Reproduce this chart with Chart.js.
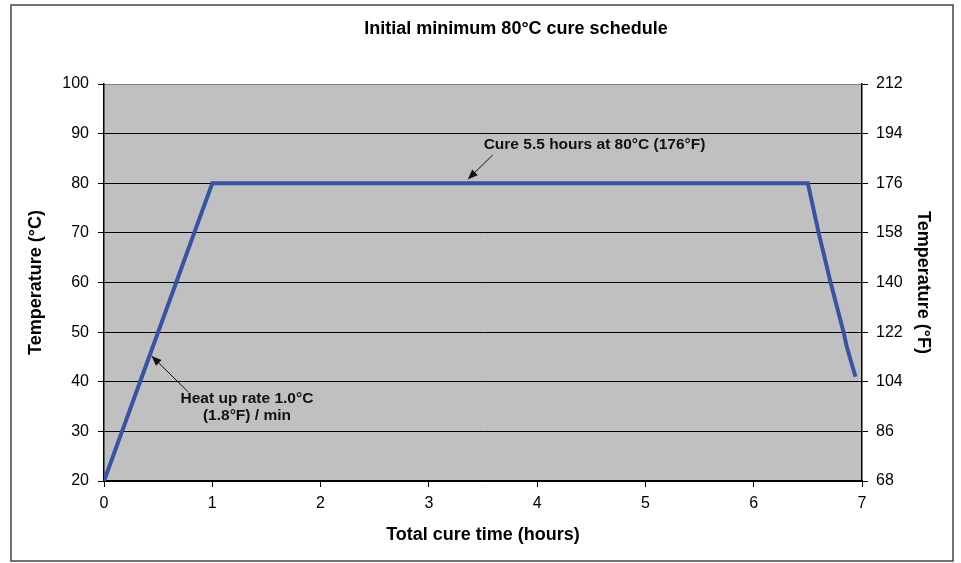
<!DOCTYPE html>
<html>
<head>
<meta charset="utf-8">
<script src="https://cdn.jsdelivr.net/npm/chart.js@4.4.0/dist/chart.umd.min.js"></script>
<style>
html,body{margin:0;padding:0;background:#fff;}
#wrap{width:961px;height:563px;position:relative;}
</style>
</head>
<body>
<div id="wrap"><canvas id="c" width="961" height="563"></canvas></div>
<script>
// ---- data ----
const timeHours = [0, 0.1667, 0.3333, 0.5, 0.6667, 0.8333, 1.0, 6.5, 6.6, 6.71, 6.83, 6.86, 6.94];
const tempC     = [20, 30, 40, 50, 60, 70, 80, 80, 70, 60, 50, 47, 41];
const xTicks = [0, 1, 2, 3, 4, 5, 6, 7];
const cTicks = [20, 30, 40, 50, 60, 70, 80, 90, 100];
const fTicks = [68, 86, 104, 122, 140, 158, 176, 194, 212];
const titleText = 'Initial minimum 80°C cure schedule';
const xTitle = 'Total cure time (hours)';
const yTitle = 'Temperature (°C)';
const y2Title = 'Temperature (°F)';
// annotations (text lines, anchor in data units, arrow from -> to in data units)
const noteCureLines = ['Cure 5.5 hours at 80°C (176°F)'];
const noteCureAt = [4.53, 87.7];
const noteCureArrow = [[3.59, 85.7], [3.36, 80.8]];
const noteHeatLines = ['Heat up rate 1.0°C', '(1.8°F) / min'];
const noteHeatAt = [1.32, 34.9];
const noteHeatArrow = [[0.78, 37.9], [0.44, 45.2]];

const FONT = "'Liberation Sans', Arial, sans-serif";

const bgPlugin = {
  id: 'bg',
  beforeDraw(chart) {
    const {ctx, chartArea: a, width, height} = chart;
    ctx.save();
    ctx.fillStyle = '#fff';
    ctx.fillRect(0, 0, width, height);
    ctx.strokeStyle = '#444';
    ctx.lineWidth = 1.5;
    ctx.strokeRect(11, 5, 942, 556);
    ctx.fillStyle = '#C0C0C0';
    ctx.fillRect(a.left, a.top, a.right - a.left, a.bottom - a.top);
    // chart title (offset to the right like the original)
    ctx.fillStyle = '#000';
    ctx.font = "bold 18px " + FONT;
    ctx.textAlign = 'center';
    ctx.textBaseline = 'middle';
    ctx.fillText(titleText, (a.left + a.right) / 2 + 33, 29);
    ctx.restore();
  }
};

function drawArrow(ctx, x1, y1, x2, y2) {
  ctx.beginPath();
  ctx.moveTo(x1, y1);
  ctx.lineTo(x2, y2);
  ctx.stroke();
  const ang = Math.atan2(y2 - y1, x2 - x1);
  const L = 10, W = 4;
  ctx.beginPath();
  ctx.moveTo(x2, y2);
  ctx.lineTo(x2 - L * Math.cos(ang) + W * Math.sin(ang), y2 - L * Math.sin(ang) - W * Math.cos(ang));
  ctx.lineTo(x2 - L * Math.cos(ang) - W * Math.sin(ang), y2 - L * Math.sin(ang) + W * Math.cos(ang));
  ctx.closePath();
  ctx.fill();
}

const notePlugin = {
  id: 'notes',
  afterDatasetsDraw(chart) {
    const {ctx} = chart;
    const xs = chart.scales.x, ys = chart.scales.y;
    const px = v => xs.getPixelForValue(v), py = v => ys.getPixelForValue(v);
    ctx.save();
    ctx.fillStyle = '#111';
    ctx.strokeStyle = '#111';
    ctx.lineWidth = 1;
    ctx.font = "bold 15.5px " + FONT;
    ctx.textAlign = 'center';
    ctx.textBaseline = 'middle';
    noteCureLines.forEach((t, i) => ctx.fillText(t, px(noteCureAt[0]), py(noteCureAt[1]) + i * 17));
    noteHeatLines.forEach((t, i) => ctx.fillText(t, px(noteHeatAt[0]), py(noteHeatAt[1]) - 8.5 + i * 17));
    drawArrow(ctx, px(noteCureArrow[0][0]), py(noteCureArrow[0][1]), px(noteCureArrow[1][0]), py(noteCureArrow[1][1]));
    drawArrow(ctx, px(noteHeatArrow[0][0]), py(noteHeatArrow[0][1]), px(noteHeatArrow[1][0]), py(noteHeatArrow[1][1]));
    ctx.restore();
  }
};

const tickFont = {family: FONT, size: 16};
const axTitleFont = {family: FONT, size: 18, weight: 'bold'};

new Chart(document.getElementById('c'), {
  type: 'line',
  data: {
    datasets: [{
      data: timeHours.map((t, i) => ({x: t, y: tempC[i]})),
      borderColor: '#3953A4',
      borderWidth: 4,
      pointRadius: 0,
      tension: 0,
      fill: false
    }]
  },
  options: {
    responsive: false,
    animation: false,
    devicePixelRatio: 1,
    layout: {padding: {top: 84, left: 0, right: 0, bottom: 0}},
    plugins: {
      legend: {display: false},
      tooltip: {enabled: false},
      title: {display: false}
    },
    scales: {
      x: {
        type: 'linear',
        min: 0, max: 7,
        afterBuildTicks: ax => { ax.ticks = xTicks.map(v => ({value: v})); },
        afterFit: ax => { ax.height = 82; },
        ticks: {color: '#000', font: tickFont, padding: 7, maxRotation: 0},
        grid: {display: true, drawOnChartArea: false, drawTicks: true, tickLength: 6, tickColor: '#000', color: '#000'},
        border: {display: true, color: '#000', width: 1.5},
        title: {display: true, text: xTitle, color: '#000', font: axTitleFont, padding: {top: 0, bottom: 17}}
      },
      y: {
        type: 'linear',
        position: 'left',
        min: 20, max: 100,
        afterBuildTicks: ax => { ax.ticks = cTicks.map(v => ({value: v})); },
        afterFit: ax => { ax.width = 104; },
        ticks: {color: '#000', font: tickFont, padding: 9},
        grid: {
          color: c => (c.tick && c.tick.value === 100) ? '#808080' : '#000',
          lineWidth: 1,
          drawTicks: true, tickLength: 6, tickColor: '#000'
        },
        border: {display: true, color: '#000', width: 1.5},
        title: {display: true, text: yTitle, color: '#000', font: axTitleFont, padding: {top: 25, bottom: 0}}
      },
      y2: {
        type: 'linear',
        position: 'right',
        min: 68, max: 212,
        afterBuildTicks: ax => { ax.ticks = fTicks.map(v => ({value: v})); },
        afterFit: ax => { ax.width = 99; },
        ticks: {color: '#000', font: tickFont, padding: 8},
        grid: {display: true, drawOnChartArea: false, drawTicks: true, tickLength: 6, tickColor: '#000', color: '#000'},
        border: {display: true, color: '#000', width: 1.5},
        title: {display: true, text: y2Title, color: '#000', font: axTitleFont, padding: {top: 27, bottom: 0}}
      }
    }
  },
  plugins: [bgPlugin, notePlugin]
});
</script>
</body>
</html>
